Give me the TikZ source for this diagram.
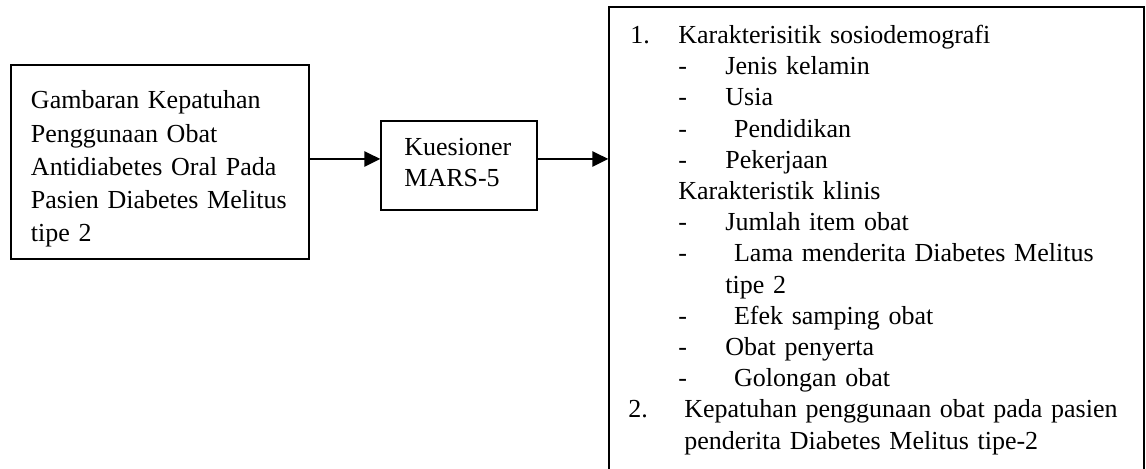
\documentclass[tikz,border=0pt]{standalone}
\usepackage{fontspec}
\setmainfont{Liberation Serif}
\usetikzlibrary{arrows.meta}

\tikzset{
  kotak/.style={draw, line width=0.6pt, inner sep=0pt},
  isi/.style={inner sep=0pt, anchor=base west, align=left},
  panah/.style={line width=1.35pt, -{Triangle[length=8pt,width=7.5pt]}}
}
\newcommand{\butir}[1]{\hspace*{24pt}\makebox[23.5pt][l]{-}#1}

\begin{document}
\begin{tikzpicture}[x=1pt,y=1pt]
        \useasboundingbox (0,0) rectangle (573,234.5);

        % kotak kiri
        \node[kotak, minimum width=149pt, minimum height=97pt] (gambaran) at (80,153.5) {};
        \node[isi, text width=140pt, font=\fontsize{13}{16.6}\selectfont] (gambarantxt) at (15.3,180)
          {Gambaran Kepatuhan\\Penggunaan Obat\\Antidiabetes Oral Pada\\Pasien Diabetes Melitus\\tipe 2};

        % kotak tengah
        \node[kotak, minimum width=78pt, minimum height=44.5pt] (kuesioner) at (229.5,151.75) {};
        \node[isi, text width=70pt, font=\fontsize{13}{15.5}\selectfont] (kuesionertxt) at (202,156.5)
          {Kuesioner\\MARS-5};

        % kotak kanan
        \node[kotak, minimum width=267.5pt, minimum height=235pt] (variabel) at (438.25,113.5) {};
        \node[isi, text width=262pt, font=\fontsize{13}{15.6}\selectfont] (variabeltxt) at (315,212.75)
          {\makebox[24pt][l]{1.}Karakterisitik sosiodemografi\\
           \butir{Jenis kelamin}\\
           \butir{Usia}\\
           \butir{\ Pendidikan}\\
           \butir{Pekerjaan}\\
           \hspace*{24pt}Karakteristik klinis\\
           \butir{Jumlah item obat}\\
           \butir{\ Lama menderita Diabetes Melitus}\\
           \hspace*{47.5pt}tipe 2\\
           \butir{\ Efek samping obat}\\
           \butir{Obat penyerta}\\
           \butir{\ Golongan obat}\\
           \hspace*{-1pt}\makebox[28pt][l]{2.}Kepatuhan penggunaan obat pada pasien\\
           \hspace*{27pt}penderita Diabetes Melitus tipe-2};

        % panah
        \draw[panah] ([yshift=1.5pt]gambaran.east) -- ([yshift=1.5pt]gambaran.east -| kuesioner.west);
        \draw[panah] ([yshift=3.25pt]kuesioner.east) -- ([yshift=3.25pt]kuesioner.east -| variabel.west);
\end{tikzpicture}
\end{document}
